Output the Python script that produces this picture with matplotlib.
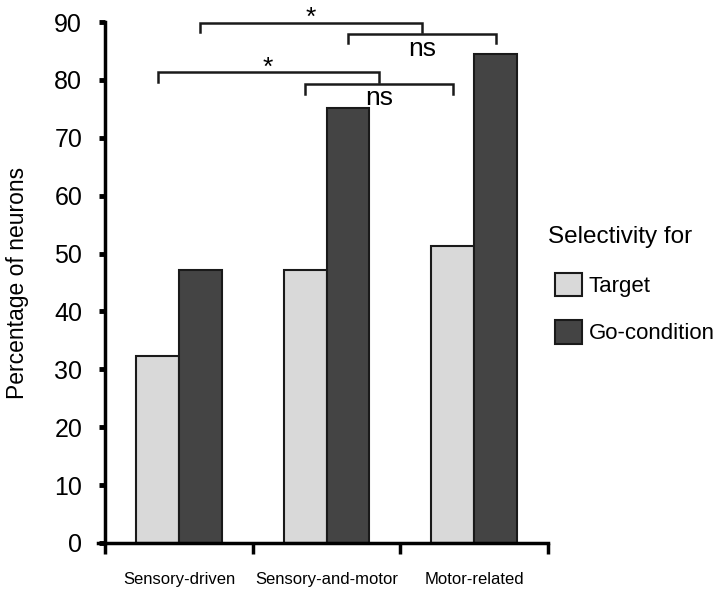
import matplotlib.pyplot as plt
import numpy as np

# data
categories = ['Sensory-driven', 'Sensory-and-motor', 'Motor-related']
target = [32.3, 47.1, 51.3]
go_condition = [47.1, 75.1, 84.5]
series_names = ['Target', 'Go-condition']
yticks = [0, 10, 20, 30, 40, 50, 60, 70, 80, 90]

font = ['Liberation Sans', 'DejaVu Sans']

fig = plt.figure(figsize=(7.2, 5.96), dpi=100)
ax = fig.add_axes([0.146, 0.089, 0.615, 0.874])

x = np.arange(len(categories))
w = 0.29
light = '#d9d9d9'
dark = '#444444'
edge = '#1a1a1a'

ax.bar(x - w / 2, target, w, color=light, edgecolor=edge, linewidth=1.5,
       label=series_names[0])
ax.bar(x + w / 2, go_condition, w, color=dark, edgecolor=edge, linewidth=1.5,
       label=series_names[1])

ax.set_xlim(-0.5, len(categories) - 0.5)
ax.set_ylim(0, 90)

for s in ['top', 'right']:
    ax.spines[s].set_visible(False)
for s in ['left', 'bottom']:
    ax.spines[s].set_linewidth(2.5)
ax.spines['bottom'].set_bounds(-0.55, len(categories) - 0.5)

ax.set_yticks(yticks)
ax.set_yticklabels([str(v) for v in yticks], family=font, fontsize=18)
ax.tick_params(axis='y', length=4.5, width=3.5, pad=12)

# boundary ticks as major, category labels as minor
ax.set_xticks(np.arange(len(categories) + 1) - 0.5)
ax.set_xticklabels([])
ax.tick_params(axis='x', which='major', length=8, width=2.5)
ax.set_xticks(x, minor=True)
ax.set_xticklabels(categories, minor=True, family=font, fontsize=12)
ax.tick_params(axis='x', which='minor', length=0, pad=21)

ax.set_ylabel('Percentage of neurons', family=font, fontsize=16.5, labelpad=18)


def bracket(x0, x1, y, drop):
    ax.plot([x0, x0, x1, x1], [y - drop, y, y, y - drop], color='#1a1a1a',
            lw=1.8, clip_on=False, solid_joinstyle='miter')


tx = x - w / 2
gx = x + w / 2
# go-condition comparisons
bracket(gx[1], gx[2], 88.0, 1.6)
bracket(gx[0], (gx[1] + gx[2]) / 2, 89.9, 1.6)
ax.text((gx[0] + (gx[1] + gx[2]) / 2) / 2, 90.7, '*', ha='center', va='center',
        fontsize=19, family=font, clip_on=False)
ax.text((gx[1] + gx[2]) / 2, 85.4, 'ns', ha='center', va='center',
        fontsize=19, family=font, clip_on=False)
# target comparisons
bracket(tx[1], tx[2], 79.3, 1.7)
bracket(tx[0], (tx[1] + tx[2]) / 2, 81.4, 1.7)
ax.text((tx[0] + (tx[1] + tx[2]) / 2) / 2, 82.1, '*', ha='center', va='center',
        fontsize=19, family=font, clip_on=False)
ax.text((tx[1] + tx[2]) / 2, 76.9, 'ns', ha='center', va='center',
        fontsize=19, family=font, clip_on=False)

# legend title as its own text so the boxes sit slightly indented
ax.text(1.0, 0.587, 'Selectivity for', transform=ax.transAxes, ha='left',
        va='center', fontsize=17.5, family=font)
ax.legend(loc='upper left', bbox_to_anchor=(1.016, 0.519), frameon=False,
          handlelength=1.22, handleheight=1.25, handletextpad=0.3,
          labelspacing=1.05, borderaxespad=0, borderpad=0,
          prop={'family': font, 'size': 16})

fig.savefig('out.png', dpi=100)
